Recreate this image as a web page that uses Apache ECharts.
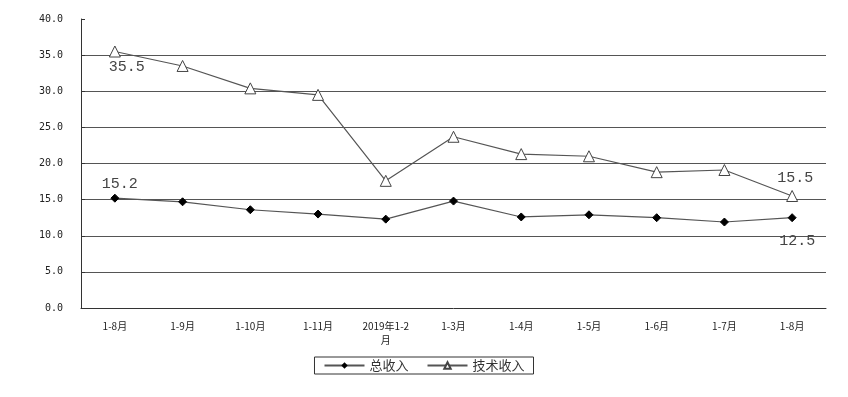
<!DOCTYPE html>
<html>
<head>
<meta charset="utf-8">
<script src="https://cdn.jsdelivr.net/npm/echarts@6/dist/echarts.min.js"></script>
<style>
  html, body { margin: 0; padding: 0; background: #fff; }
  #main { width: 848px; height: 397px; }
</style>
</head>
<body>
<div id="main"></div>
<script>
// 月份类别
const categories = ['1-8月', '1-9月', '1-10月', '1-11月', '2019年1-2月', '1-3月', '1-4月', '1-5月', '1-6月', '1-7月', '1-8月'];
// 总收入增速
const totalIncome = [15.2, 14.7, 13.6, 13.0, 12.3, 14.8, 12.6, 12.9, 12.5, 11.9, 12.5];
// 技术收入增速
const techIncome = [35.5, 33.5, 30.4, 29.5, 17.6, 23.7, 21.3, 21.0, 18.8, 19.1, 15.5];

const last = categories.length - 1;
const gridColors = ['transparent', '#555', '#555', '#555', '#555', '#555', '#555', '#555'];
const labelFont = { fontFamily: 'Liberation Mono', fontSize: 15, color: '#444' };

const chart = echarts.init(document.getElementById('main'));
chart.setOption({
    animation: false,
    backgroundColor: '#fff',
    grid: { left: 81, right: 22, top: 19, bottom: 89 },
    legend: {
        bottom: 23,
        left: 'center',
        itemGap: 18,
        itemWidth: 40,
        itemHeight: 8,
        borderColor: '#333',
        borderWidth: 1,
        borderRadius: 0,
        padding: [2, 9, 2, 9],
        textStyle: { fontFamily: 'Noto Sans CJK SC', fontSize: 13, color: '#333' },
        data: ['总收入', '技术收入']
    },
    xAxis: {
        type: 'category',
        data: categories,
        boundaryGap: true,
        axisLine: { lineStyle: { color: '#333', width: 1 } },
        axisTick: { inside: true, length: 4, lineStyle: { color: '#333' } },
        axisLabel: {
            fontFamily: 'Noto Sans CJK SC',
            fontSize: 10,
            color: '#222',
            margin: 11,
            lineHeight: 14,
            formatter: v => v.replace('1-2月', '1-2\n月')
        }
    },
    yAxis: {
        type: 'value',
        min: 0,
        max: 40,
        interval: 5,
        axisLine: { show: true, lineStyle: { color: '#333', width: 1 } },
        axisTick: { show: true, inside: true, length: 4, lineStyle: { color: '#333' } },
        axisLabel: {
            fontFamily: 'DejaVu Sans Mono',
            fontSize: 10,
            color: '#222',
            margin: 18,
            formatter: v => v.toFixed(1)
        },
        splitLine: { show: true, lineStyle: { color: gridColors, width: 1.2 } }
    },
    series: [
        {
            name: '总收入',
            type: 'line',
            data: totalIncome.map((v, i) => ({
                value: v,
                label: i === 0 ? { show: true, position: 'top', distance: 2 }
                     : i === last ? { show: true, position: 'bottom', distance: 11 }
                     : { show: false }
            })),
            symbol: 'diamond',
            symbolSize: 8,
            lineStyle: { color: '#555', width: 1.2 },
            itemStyle: { color: '#000', borderColor: '#000' },
            label: { ...labelFont, formatter: p => p.value.toFixed(1) },
            labelLayout: { dx: 5 }
        },
        {
            name: '技术收入',
            type: 'line',
            data: techIncome.map((v, i) => ({
                value: v,
                label: i === 0 ? { show: true, position: 'bottom', distance: 2 }
                     : i === last ? { show: true, position: 'top', distance: 4 }
                     : { show: false }
            })),
            symbol: 'triangle',
            symbolSize: 11,
            lineStyle: { color: '#555', width: 1.2 },
            itemStyle: { color: '#fff', borderColor: '#444', borderWidth: 1 },
            label: { ...labelFont, formatter: p => p.value.toFixed(1) },
            labelLayout: p => p.dataIndex === 0 ? { dx: 12 } : { dx: 3 }
        }
    ]
});
</script>
</body>
</html>
